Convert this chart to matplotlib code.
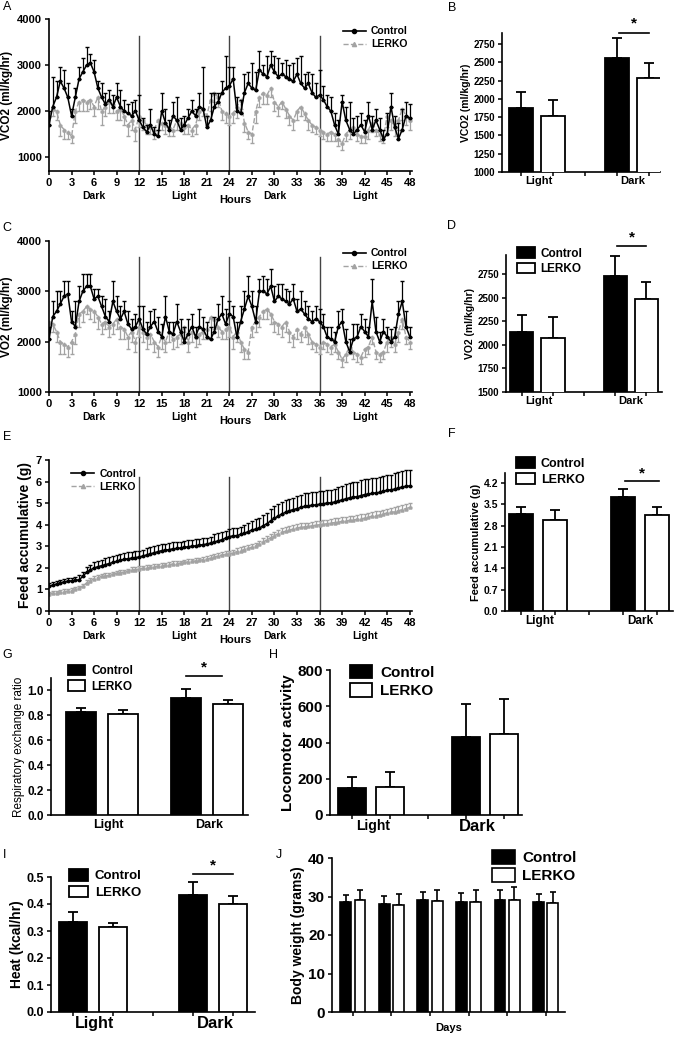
import numpy as np
import matplotlib
matplotlib.use('Agg')
import matplotlib.pyplot as plt
from matplotlib.patches import Patch
from matplotlib.lines import Line2D

plt.rcParams['font.family'] = ['Liberation Sans', 'DejaVu Sans']
plt.rcParams['font.weight'] = 'bold'
plt.rcParams['axes.labelweight'] = 'bold'

W, H = 675, 1038
GREY = '#a3a3a3'

# ---------------- data (half-hour samples, 0..48 h) ----------------
vco2_ctrl = [1700, 2100, 2300, 2650, 2500, 2300, 1900, 2300, 2700, 2850, 3000, 3050,
             2850, 2500, 2300, 2150, 2250, 2100, 2300, 2100, 2000, 1950, 1900, 2000,
             1800, 1650, 1550, 1700, 1500, 1450, 2000, 1750, 1600, 1900, 1800, 1600,
             1700, 1850, 2000, 1900, 2100, 2050, 1650, 1800, 2100, 2200, 2400, 2500,
             2550, 2700, 2000, 1950, 2400, 2600, 2500, 2450, 2900, 2800, 2750, 3000,
             2850, 2750, 2800, 2750, 2700, 2650, 2800, 2600, 2500, 2600, 2400, 2300,
             2350, 2250, 2100, 2000, 1700, 1500, 2200, 1800, 1600, 1500, 1600, 1700,
             1550, 1900, 1600, 1800, 1600, 1400, 1500, 2100, 1650, 1400, 1600, 1900,
             1850]
vco2_ctrl_err = [300, 650, 350, 300, 400, 300, 150, 200, 250, 300, 400, 200,
                 250, 150, 300, 250, 200, 250, 300, 350, 250, 200, 300, 250,
                 550, 200, 150, 350, 150, 150, 400, 300, 200, 300, 500, 250,
                 200, 200, 250, 150, 300, 900, 250, 600, 300, 200, 250, 700,
                 400, 250, 300, 300, 400, 250, 550, 400, 400, 200, 450, 300,
                 350, 400, 250, 350, 300, 400, 350, 600, 300, 250, 400, 300,
                 550, 300, 250, 300, 250, 300, 150, 300, 600, 350, 300, 250,
                 250, 300, 300, 250, 250, 200, 450, 300, 250, 350, 450, 300,
                 300]
vco2_lerko = [1900, 2050, 2000, 1700, 1600, 1550, 1450, 2000, 2200, 2250, 2200, 2250,
              2100, 2300, 2000, 2100, 2200, 2150, 2000, 2050, 1900, 1700, 1800, 1600,
              1900, 1800, 1700, 1650, 1600, 1800, 1750, 1700, 1650, 1600, 1800, 1750,
              1650, 1700, 1600, 1700, 2000, 2050, 1900, 2250, 2400, 2300, 2000, 1950,
              1900, 1950, 2100, 2250, 1750, 1550, 1500, 2000, 2300, 2400, 2350, 2500,
              2200, 2100, 2200, 2050, 1900, 1800, 2000, 2100, 1950, 1800, 1700, 1650,
              1600, 1550, 1500, 1550, 1500, 1400, 1300, 1500, 1600, 1650, 1500, 1450,
              1450, 1600, 1750, 1600, 1500, 1450, 1900, 1800, 1650, 1800, 2050, 1900,
              1800]
vco2_lerko_err = [200, 150, 200, 250, 200, 150, 150, 250, 200, 250, 200, 200,
                  200, 250, 300, 200, 250, 200, 200, 250, 200, 250, 200, 250,
                  250, 200, 200, 150, 200, 200, 150, 200, 200, 150, 200, 150,
                  150, 200, 150, 200, 200, 150, 200, 250, 200, 200, 200, 200,
                  200, 200, 250, 200, 200, 150, 200, 250, 200, 250, 200, 200,
                  200, 200, 150, 200, 200, 200, 200, 200, 150, 200, 150, 150,
                  150, 150, 150, 200, 150, 150, 150, 150, 200, 150, 150, 150,
                  150, 200, 200, 150, 150, 150, 250, 200, 200, 200, 250, 200,
                  200]

vo2_ctrl = [2050, 2500, 2600, 2750, 2900, 2950, 2400, 2300, 2800, 3000, 3100, 3100,
            2850, 2900, 2700, 2500, 2400, 2800, 2600, 2450, 2600, 2350, 2250, 2300,
            2450, 2250, 2150, 2300, 2400, 2200, 2100, 2500, 2200, 2150, 2400, 2200,
            2000, 2150, 2300, 2100, 2300, 2250, 2100, 2050, 2200, 2450, 2550, 2350,
            2550, 2500, 2100, 2400, 2650, 2900, 2700, 2400, 3000, 3000, 2950, 3100,
            2800, 2900, 2850, 2800, 2750, 2850, 2600, 2650, 2550, 2450, 2400, 2450,
            2400, 2300, 2100, 2050, 2000, 2300, 2400, 2000, 1800, 2050, 2100, 2300,
            2200, 2100, 2800, 2200, 2000, 2200, 2100, 2000, 2100, 2550, 2800, 2300,
            2100]
vo2_ctrl_err = [250, 300, 400, 250, 300, 250, 200, 500, 300, 350, 250, 250,
                200, 150, 200, 350, 200, 400, 300, 250, 200, 250, 200, 250,
                250, 450, 250, 300, 250, 300, 250, 400, 200, 250, 350, 250,
                300, 300, 250, 200, 350, 250, 300, 250, 300, 300, 350, 300,
                250, 200, 300, 300, 350, 400, 300, 300, 250, 300, 300, 350,
                300, 250, 300, 250, 250, 300, 250, 350, 250, 250, 200, 250,
                250, 250, 200, 250, 200, 300, 250, 250, 250, 300, 250, 250,
                250, 200, 450, 300, 200, 250, 200, 250, 200, 250, 400, 300,
                200]
vo2_lerko = [2400, 2350, 2200, 2000, 1950, 1900, 2000, 2150, 2550, 2600, 2700, 2650,
             2600, 2500, 2350, 2400, 2300, 2350, 2450, 2300, 2250, 2100, 2200, 2000,
             2300, 2200, 2100, 2150, 2000, 1900, 2100, 2000, 2200, 2050, 2100, 2150,
             2300, 2000, 2200, 2100, 2150, 2200, 2250, 2500, 2450, 2300, 2200, 2250,
             2300, 2100, 2200, 2000, 1850, 1800, 2300, 2400, 2500, 2600, 2650, 2550,
             2400, 2350, 2300, 2400, 2200, 2100, 2250, 2150, 2300, 2150, 2000, 1950,
             1900, 2000, 1950, 1900, 1950, 1800, 1650, 1750, 1900, 1800, 1750, 1700,
             1850, 1900, 2100, 1800, 1750, 1800, 2000, 2100, 1950, 2200, 2450, 2100,
             2000]
vo2_lerko_err = [200, 150, 200, 250, 200, 200, 250, 200, 250, 200, 150, 200,
                 200, 250, 200, 150, 200, 200, 200, 250, 200, 250, 200, 200,
                 200, 200, 250, 200, 200, 200, 250, 200, 200, 200, 200, 200,
                 200, 200, 200, 200, 200, 150, 200, 200, 200, 200, 150, 200,
                 200, 250, 200, 200, 200, 150, 200, 200, 200, 150, 200, 200,
                 200, 200, 200, 200, 200, 200, 200, 150, 200, 200, 150, 150,
                 150, 150, 150, 150, 150, 150, 150, 150, 150, 150, 150, 150,
                 150, 150, 150, 150, 150, 150, 200, 200, 150, 200, 200, 150,
                 150]

feed_ctrl = [1.15, 1.2, 1.25, 1.3, 1.35, 1.38, 1.4, 1.42, 1.45, 1.6, 1.8, 1.9,
             2.0, 2.05, 2.1, 2.15, 2.2, 2.25, 2.3, 2.35, 2.4, 2.42, 2.45, 2.48,
             2.5, 2.55, 2.6, 2.65, 2.7, 2.75, 2.8, 2.82, 2.85, 2.88, 2.9, 2.92,
             2.95, 2.98, 3.0, 3.02, 3.05, 3.08, 3.1, 3.15, 3.2, 3.25, 3.3, 3.38,
             3.45, 3.48, 3.5, 3.55, 3.6, 3.68, 3.75, 3.8, 3.85, 3.95, 4.05, 4.18,
             4.3, 4.4, 4.5, 4.58, 4.65, 4.7, 4.75, 4.8, 4.85, 4.88, 4.9, 4.92,
             4.95, 4.98, 5.0, 5.02, 5.05, 5.1, 5.15, 5.2, 5.25, 5.28, 5.3, 5.35,
             5.4, 5.42, 5.45, 5.48, 5.5, 5.55, 5.6, 5.62, 5.65, 5.7, 5.75, 5.78,
             5.8]
feed_ctrl_err = [0.15, 0.15, 0.15, 0.15, 0.15, 0.15, 0.15, 0.15, 0.2, 0.2, 0.25, 0.25,
                 0.25, 0.25, 0.25, 0.3, 0.3, 0.3, 0.3, 0.3, 0.3, 0.3, 0.3, 0.3,
                 0.3, 0.3, 0.3, 0.3, 0.3, 0.3, 0.3, 0.3, 0.3, 0.3, 0.3, 0.3,
                 0.3, 0.3, 0.3, 0.3, 0.3, 0.3, 0.3, 0.3, 0.35, 0.35, 0.35, 0.35,
                 0.35, 0.35, 0.35, 0.35, 0.4, 0.4, 0.4, 0.45, 0.45, 0.5, 0.5, 0.55,
                 0.55, 0.55, 0.55, 0.55, 0.55, 0.55, 0.6, 0.6, 0.6, 0.6, 0.6, 0.6,
                 0.6, 0.6, 0.6, 0.6, 0.6, 0.65, 0.65, 0.7, 0.7, 0.7, 0.7, 0.7,
                 0.7, 0.7, 0.7, 0.7, 0.7, 0.7, 0.7, 0.7, 0.75, 0.75, 0.75, 0.75,
                 0.75]
feed_lerko = [0.8, 0.82, 0.85, 0.88, 0.9, 0.92, 0.95, 1.0, 1.05, 1.15, 1.3, 1.4,
              1.5, 1.55, 1.6, 1.62, 1.65, 1.7, 1.75, 1.78, 1.8, 1.85, 1.9, 1.92,
              1.95, 1.98, 2.0, 2.02, 2.05, 2.08, 2.1, 2.12, 2.15, 2.18, 2.2, 2.22,
              2.25, 2.28, 2.3, 2.32, 2.35, 2.38, 2.4, 2.45, 2.5, 2.55, 2.6, 2.62,
              2.65, 2.7, 2.75, 2.8, 2.85, 2.9, 2.95, 3.02, 3.1, 3.2, 3.3, 3.4,
              3.5, 3.58, 3.65, 3.7, 3.75, 3.8, 3.85, 3.88, 3.9, 3.92, 3.95, 3.98,
              4.0, 4.02, 4.05, 4.08, 4.1, 4.12, 4.15, 4.18, 4.2, 4.22, 4.25, 4.28,
              4.3, 4.35, 4.4, 4.42, 4.45, 4.5, 4.55, 4.58, 4.6, 4.65, 4.7, 4.75,
              4.8]
feed_lerko_err = [0.1, 0.1, 0.1, 0.1, 0.1, 0.1, 0.1, 0.1, 0.1, 0.12, 0.12, 0.12,
                  0.12, 0.12, 0.12, 0.12, 0.12, 0.12, 0.12, 0.12, 0.12, 0.12, 0.12, 0.12,
                  0.12, 0.12, 0.12, 0.12, 0.12, 0.12, 0.12, 0.12, 0.12, 0.12, 0.12, 0.12,
                  0.12, 0.12, 0.12, 0.12, 0.12, 0.12, 0.15, 0.15, 0.15, 0.15, 0.15, 0.15,
                  0.15, 0.15, 0.15, 0.15, 0.15, 0.15, 0.15, 0.15, 0.15, 0.18, 0.18, 0.18,
                  0.18, 0.18, 0.18, 0.18, 0.18, 0.18, 0.18, 0.18, 0.18, 0.18, 0.18, 0.18,
                  0.18, 0.18, 0.18, 0.18, 0.2, 0.2, 0.2, 0.2, 0.2, 0.2, 0.2, 0.2,
                  0.2, 0.2, 0.2, 0.2, 0.2, 0.2, 0.2, 0.2, 0.2, 0.2, 0.2, 0.2,
                  0.2]

hour_ticks = list(range(0, 49, 3))
phase_labels = ['Dark', 'Light', 'Dark', 'Light']
phase_hours = [6, 18, 30, 42]

# bar panels: [Light, Dark]
periods = ['Light', 'Dark']
vco2_bar_ctrl, vco2_bar_ctrl_err = [1870, 2560], [230, 270]
vco2_bar_lerko, vco2_bar_lerko_err = [1770, 2290], [215, 200]
vo2_bar_ctrl, vo2_bar_ctrl_err = [2140, 2730], [180, 210]
vo2_bar_lerko, vo2_bar_lerko_err = [2070, 2480], [225, 185]
feed_bar_ctrl, feed_bar_ctrl_err = [3.2, 3.75], [0.22, 0.25]
feed_bar_lerko, feed_bar_lerko_err = [3.0, 3.15], [0.3, 0.25]
rer_ctrl, rer_ctrl_err = [0.83, 0.94], [0.03, 0.07]
rer_lerko, rer_lerko_err = [0.81, 0.89], [0.03, 0.03]
loco_ctrl, loco_ctrl_err = [150, 430], [60, 180]
loco_lerko, loco_lerko_err = [155, 445], [85, 195]
heat_ctrl, heat_ctrl_err = [0.335, 0.435], [0.035, 0.045]
heat_lerko, heat_lerko_err = [0.315, 0.40], [0.015, 0.03]
bw_ctrl = [28.5, 28.0, 29.0, 28.6, 29.2, 28.5]
bw_ctrl_err = [1.8, 2.1, 2.2, 2.4, 2.4, 2.1]
bw_lerko = [29.0, 27.9, 28.8, 28.7, 29.1, 28.3]
bw_lerko_err = [2.8, 2.7, 3.0, 2.9, 3.3, 2.9]


def px_axes(fig, left, top, right, bottom):
    return fig.add_axes([left / W, 1 - bottom / H, (right - left) / W, (bottom - top) / H])


def style(ax, fs):
    for s in ['top', 'right']:
        ax.spines[s].set_visible(False)
    for s in ['left', 'bottom']:
        ax.spines[s].set_linewidth(1.2)
    ax.tick_params(labelsize=fs, width=1.1, length=3, direction='out', pad=2)


def time_panel(ax, ctrl, ctrl_err, lerko, lerko_err, ylim, yticks, ylabel, ylabel_fs,
               tick_fs, vtop, lerko_up, legend_kw):
    hours = np.arange(len(ctrl)) * 0.5
    zero = np.zeros(len(ctrl))
    if lerko_up:
        lyerr = [zero, lerko_err]
    else:
        lyerr = [lerko_err, zero]
    ax.errorbar(hours, lerko, yerr=lyerr, fmt='^', ls='--', color=GREY, ms=2.2,
                lw=1.0, elinewidth=0.9, capsize=1.3, zorder=2)
    ax.errorbar(hours, ctrl, yerr=[zero, ctrl_err], fmt='o', ls='-', color='k', ms=1.8,
                lw=1.1, elinewidth=0.9, capsize=1.3, zorder=3)
    for h in [12, 24, 36]:
        ax.plot([h, h], [ylim[0], vtop], color='#444444', lw=1.0, zorder=1)
    ax.set_xlim(0, 48.3)
    ax.set_ylim(*ylim)
    ax.set_yticks(yticks)
    ax.set_xticks(hour_ticks)
    ax.set_ylabel(ylabel, fontsize=ylabel_fs, labelpad=3)
    style(ax, tick_fs)
    tr = ax.get_xaxis_transform()
    for h, lab in zip(phase_hours, phase_labels):
        ax.annotate(lab, (h, 0), xycoords=tr, xytext=(0, -25), textcoords='offset pixels',
                    ha='center', va='center', fontsize=7.5)
    ax.annotate('Hours', (24.8, 0), xycoords=tr, xytext=(0, -29), textcoords='offset pixels',
                ha='center', va='center', fontsize=8)
    handles = [Line2D([0], [0], color='k', lw=1.2, marker='o', ms=3),
               Line2D([0], [0], color=GREY, lw=1.0, ls='--', marker='^', ms=3)]
    ax.legend(handles, ['Control', 'LERKO'], frameon=False, fontsize=7.5, handlelength=2.2,
              labelspacing=0.3, borderaxespad=0, handletextpad=0.5, **legend_kw)


def bar_panel(ax, pos_c, pos_l, ctrl, ctrl_err, lerko, lerko_err, width, xlim, ylim, yticks,
              ylabel, ylabel_fs, tick_fs, cat_pos, cat_fs, ticks, leg_anchor, leg_fs,
              star=None, yfmt=None, ylabel_weight='bold'):
    ax.bar(pos_c, ctrl, width, color='k', edgecolor='k', lw=1.3, zorder=3)
    ax.bar(pos_l, lerko, width, color='white', edgecolor='k', lw=1.3, zorder=3)
    ax.errorbar(pos_c, ctrl, yerr=[np.zeros(len(ctrl)), ctrl_err], fmt='none', ecolor='k',
                elinewidth=1.3, capsize=3.5, capthick=1.3, zorder=2)
    ax.errorbar(pos_l, lerko, yerr=[np.zeros(len(lerko)), lerko_err], fmt='none', ecolor='k',
                elinewidth=1.3, capsize=3.5, capthick=1.3, zorder=2)
    ax.set_xlim(*xlim)
    ax.set_ylim(*ylim)
    ax.set_yticks(yticks)
    if yfmt:
        ax.set_yticklabels([yfmt % v for v in yticks])
    style(ax, tick_fs)
    if ticks is not None:
        ax.set_xticks(ticks, minor=True)
        ax.tick_params(axis='x', which='minor', length=3, width=1.1)
    ax.set_xticks(cat_pos)
    ax.set_xticklabels(periods)
    ax.tick_params(axis='x', which='major', length=0, pad=3)
    for lab, fs in zip(ax.get_xticklabels(), cat_fs):
        lab.set_fontsize(fs)
    ax.set_ylabel(ylabel, fontsize=ylabel_fs, labelpad=2, fontweight=ylabel_weight)
    if leg_anchor is not None:
        handles = [Patch(facecolor='k', edgecolor='k', lw=1.3),
                   Patch(facecolor='white', edgecolor='k', lw=1.3)]
        ax.legend(handles, ['Control', 'LERKO'], loc='upper left', bbox_to_anchor=leg_anchor,
                  frameon=False, fontsize=leg_fs, handlelength=1.5, handleheight=1.0,
                  labelspacing=0.25, borderaxespad=0, handletextpad=0.5)
    if star is not None:
        x0, x1, yl, ys = star
        ax.plot([x0, x1], [yl, yl], color='k', lw=1.2, clip_on=False)
        ax.text((x0 + x1) / 2, ys, '*', ha='center', va='center', fontsize=11, clip_on=False)


fig = plt.figure(figsize=(W / 100, H / 100), dpi=100)

# A: VCO2 time course
axA = px_axes(fig, 49, 19, 412, 171)
time_panel(axA, vco2_ctrl, vco2_ctrl_err, vco2_lerko, vco2_lerko_err, (700, 4000),
           [1000, 2000, 3000, 4000], 'VCO2 (ml/kg/hr)', 8.5, 8, 3630, False,
           dict(loc='upper right', bbox_to_anchor=(1.0, 0.98)))

# C: VO2 time course
axC = px_axes(fig, 49, 241, 412, 392)
time_panel(axC, vo2_ctrl, vo2_ctrl_err, vo2_lerko, vo2_lerko_err, (1000, 4000),
           [1000, 2000, 3000, 4000], 'VO2 (ml/kg/hr)', 8.5, 8, 3680, False,
           dict(loc='upper right', bbox_to_anchor=(1.0, 0.98)))

# E: feed accumulative
axE = px_axes(fig, 49, 460, 412, 611)
time_panel(axE, feed_ctrl, feed_ctrl_err, feed_lerko, feed_lerko_err, (0, 7),
           list(range(0, 8)), 'Feed accumulative (g)', 10, 8, 6.2, True,
           dict(loc='upper left', bbox_to_anchor=(0.05, 0.97)))

lp = [0, 3]
ll = [1, 4]
mid_ticks = [0, 1, 2, 3, 4]

# B
axB = px_axes(fig, 502, 33, 660, 172)
bar_panel(axB, lp, ll, vco2_bar_ctrl, vco2_bar_ctrl_err, vco2_bar_lerko, vco2_bar_lerko_err,
          0.75, (-0.6, 4.35), (1000, 2900), list(range(1000, 2751, 250)), 'VCO2 (ml/kg/hr)',
          7.5, 7, [0.55, 3.5], [8, 8], mid_ticks, None, 8, star=(3.05, 4.0, 2895, 3037))

# D
axD = px_axes(fig, 506, 255, 662, 392)
bar_panel(axD, lp, ll, vo2_bar_ctrl, vo2_bar_ctrl_err, vo2_bar_lerko, vo2_bar_lerko_err,
          0.75, (-0.5, 4.5), (1500, 2950), list(range(1500, 2751, 250)), 'VO2 (ml/kg/hr)',
          7.5, 7, [0.55, 3.5], [8, 8], mid_ticks, (0.04, 1.09), 8.5,
          star=(3.05, 4.0, 3047, 3131))

# F
axF = px_axes(fig, 505, 473, 673, 611)
bar_panel(axF, lp, ll, feed_bar_ctrl, feed_bar_ctrl_err, feed_bar_lerko, feed_bar_lerko_err,
          0.72, (-0.47, 4.47), (0, 4.53), [0, 0.7, 1.4, 2.1, 2.8, 3.5, 4.2],
          'Feed accumulative (g)', 8, 7.5, [0.55, 3.5], [8.5, 8.5], mid_ticks, (0.035, 1.15), 9,
          star=(3.05, 4.05, 4.27, 4.5), yfmt='%.1f')

# G: respiratory exchange ratio
axG = px_axes(fig, 51, 678, 248, 815)
bar_panel(axG, [0, 2.5], [1, 3.5], rer_ctrl, rer_ctrl_err, rer_lerko, rer_lerko_err,
          0.72, (-0.71, 3.98), (0, 1.1), [0, 0.2, 0.4, 0.6, 0.8, 1.0],
          'Respiratory exchange ratio', 8.5, 8.5, [0.65, 3.05], [9, 9], None, (0.06, 1.13), 8.5,
          star=(2.5, 3.35, 1.12, 1.185), yfmt='%.1f', ylabel_weight='normal')

# H: locomotor activity
axH = px_axes(fig, 330, 670, 522, 815)
bar_panel(axH, lp, ll, loco_ctrl, loco_ctrl_err, loco_lerko, loco_lerko_err,
          0.72, (-0.58, 4.47), (0, 800), [0, 200, 400, 600, 800], 'Locomotor activity',
          11, 11, [0.55, 3.3], [10, 12], mid_ticks, (0.07, 1.08), 11)

# I: heat
axI = px_axes(fig, 51, 877, 255, 1012)
bar_panel(axI, lp, ll, heat_ctrl, heat_ctrl_err, heat_lerko, heat_lerko_err,
          0.72, (-0.55, 4.55), (0, 0.5), [0, 0.1, 0.2, 0.3, 0.4, 0.5], 'Heat (kcal/hr)',
          10, 9, [0.55, 3.55], [11.5, 12], mid_ticks, (0.06, 1.1), 9.5,
          star=(3.0, 4.0, 0.511, 0.544), yfmt='%.1f')

# J: body weight over days
axJ = px_axes(fig, 332, 858, 565, 1012)
days = np.arange(len(bw_ctrl))
axJ.bar(days - 0.185, bw_ctrl, 0.28, color='k', edgecolor='k', lw=1.2, zorder=3)
axJ.bar(days + 0.185, bw_lerko, 0.28, color='white', edgecolor='k', lw=1.2, zorder=3)
axJ.errorbar(days - 0.185, bw_ctrl, yerr=[np.zeros(len(days)), bw_ctrl_err], fmt='none',
             ecolor='k', elinewidth=1.2, capsize=2.5, capthick=1.2, zorder=2)
axJ.errorbar(days + 0.185, bw_lerko, yerr=[np.zeros(len(days)), bw_lerko_err], fmt='none',
             ecolor='k', elinewidth=1.2, capsize=2.5, capthick=1.2, zorder=2)
axJ.set_xlim(-0.54, 5.5)
axJ.set_ylim(0, 40)
axJ.set_yticks([0, 10, 20, 30, 40])
axJ.set_xticks(days)
axJ.set_xticklabels([])
style(axJ, 11)
axJ.set_ylabel('Body weight (grams)', fontsize=10, labelpad=2)
axJ.set_xlabel('Days', fontsize=8, labelpad=3)
axJ.legend([Patch(facecolor='k', edgecolor='k', lw=1.2), Patch(facecolor='white', edgecolor='k', lw=1.2)],
           ['Control', 'LERKO'], loc='upper left', bbox_to_anchor=(0.66, 1.09), frameon=False,
           fontsize=11, handlelength=1.5, handleheight=1.0, labelspacing=0.2, borderaxespad=0,
           handletextpad=0.5)

# panel letters
for lab, x, y in [('A', 7, 7), ('B', 452, 8), ('C', 7, 228), ('D', 452, 226), ('E', 7, 437),
                  ('F', 452, 434), ('G', 7, 655), ('H', 273, 655), ('I', 5, 855), ('J', 279, 855)]:
    fig.text(x / W, 1 - y / H, lab, fontsize=9, fontweight='normal', ha='center', va='center')

fig.savefig('out.png', dpi=100)
